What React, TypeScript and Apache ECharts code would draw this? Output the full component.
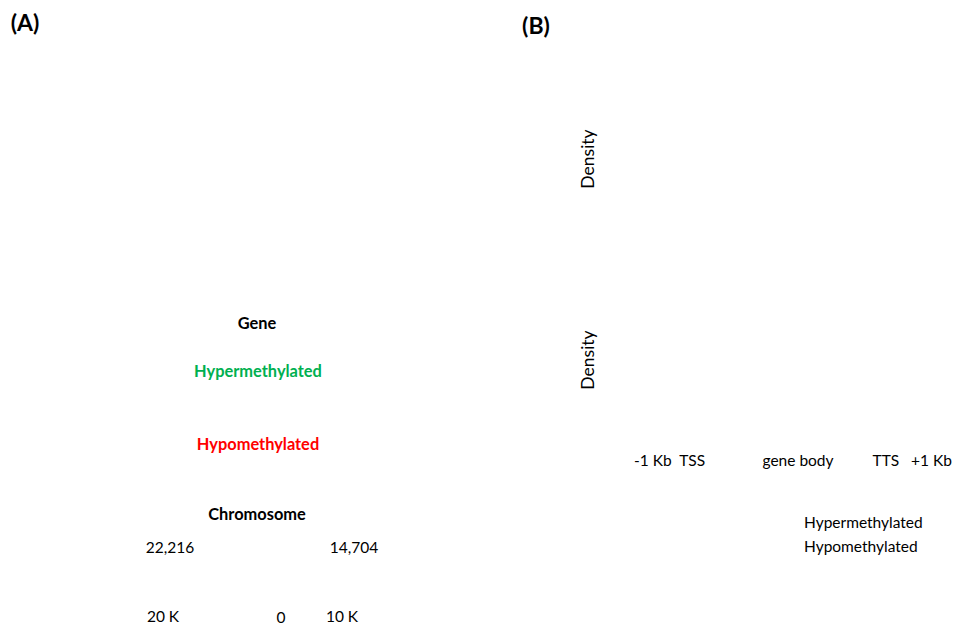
import React, { useEffect, useRef } from "react";
import * as echarts from "echarts";

const panelLabels = ["(A)", "(B)"];
const circosTitles = ["Gene", "Chromosome"];
const methylGroups = ["Hypermethylated", "Hypomethylated"];
const methylColors = ["#00B050", "#FF0000"];
const chromCounts = ["22,216", "14,704"];
const scaleTicks = ["20 K", "0", "10 K"];
const densityTitle = "Density";
const profileTicks = ["-1 Kb  TSS", "gene body", "TTS   +1 Kb"];

const FONT = "Lato";

export default function App() {
  const ref = useRef<HTMLDivElement>(null);
  useEffect(() => {
    if (!ref.current) return;
    const chart = echarts.init(ref.current, null, { renderer: "svg" });
    const t = (text: string, x: number, y: number, opts: any = {}) => ({
      type: "text",
      x,
      y,
      rotation: opts.rotation || 0,
      style: {
        text,
        fill: opts.color || "#000",
        font: `${opts.bold ? "bold " : ""}${opts.size || 15.5}px ${FONT}`,
        align: opts.align || "center",
        verticalAlign: "middle",
      },
    });
    const B = 16.4;
    const R = 15.5;
    const els: any[] = [
      t(panelLabels[0], 25, 22, { bold: true, size: 23 }),
      t(panelLabels[1], 536, 25, { bold: true, size: 23 }),
      t(circosTitles[0], 257, 322, { bold: true, size: B }),
      t(methylGroups[0], 258, 370, { bold: true, size: B, color: methylColors[0] }),
      t(methylGroups[1], 258, 443, { bold: true, size: B, color: methylColors[1] }),
      t(circosTitles[1], 257, 513, { bold: true, size: B }),
      t(chromCounts[0], 170, 547, { size: R }),
      t(chromCounts[1], 354, 547, { size: R }),
      t(scaleTicks[0], 163, 616, { size: R }),
      t(scaleTicks[1], 281, 617, { size: R }),
      t(scaleTicks[2], 342, 616, { size: R }),
      t(densityTitle, 587, 159, { size: 17.5, rotation: Math.PI / 2 }),
      t(densityTitle, 587, 360, { size: 17.5, rotation: Math.PI / 2 }),
      t(profileTicks[0], 634, 460, { size: R, align: "left" }),
      t(profileTicks[1], 798, 460, { size: R }),
      t(profileTicks[2], 952, 460, { size: R, align: "right" }),
      t(methylGroups[0], 804, 522, { size: R, align: "left" }),
      t(methylGroups[1], 804, 546, { size: R, align: "left" }),
    ];
    chart.setOption({
      animation: false,
      backgroundColor: "#fff",
      graphic: { elements: els },
    });
    return () => chart.dispose();
  }, []);
  return (
    <div
      ref={ref}
      style={{ position: "absolute", left: 0, top: 0, width: 957, height: 625 }}
    />
  );
}
